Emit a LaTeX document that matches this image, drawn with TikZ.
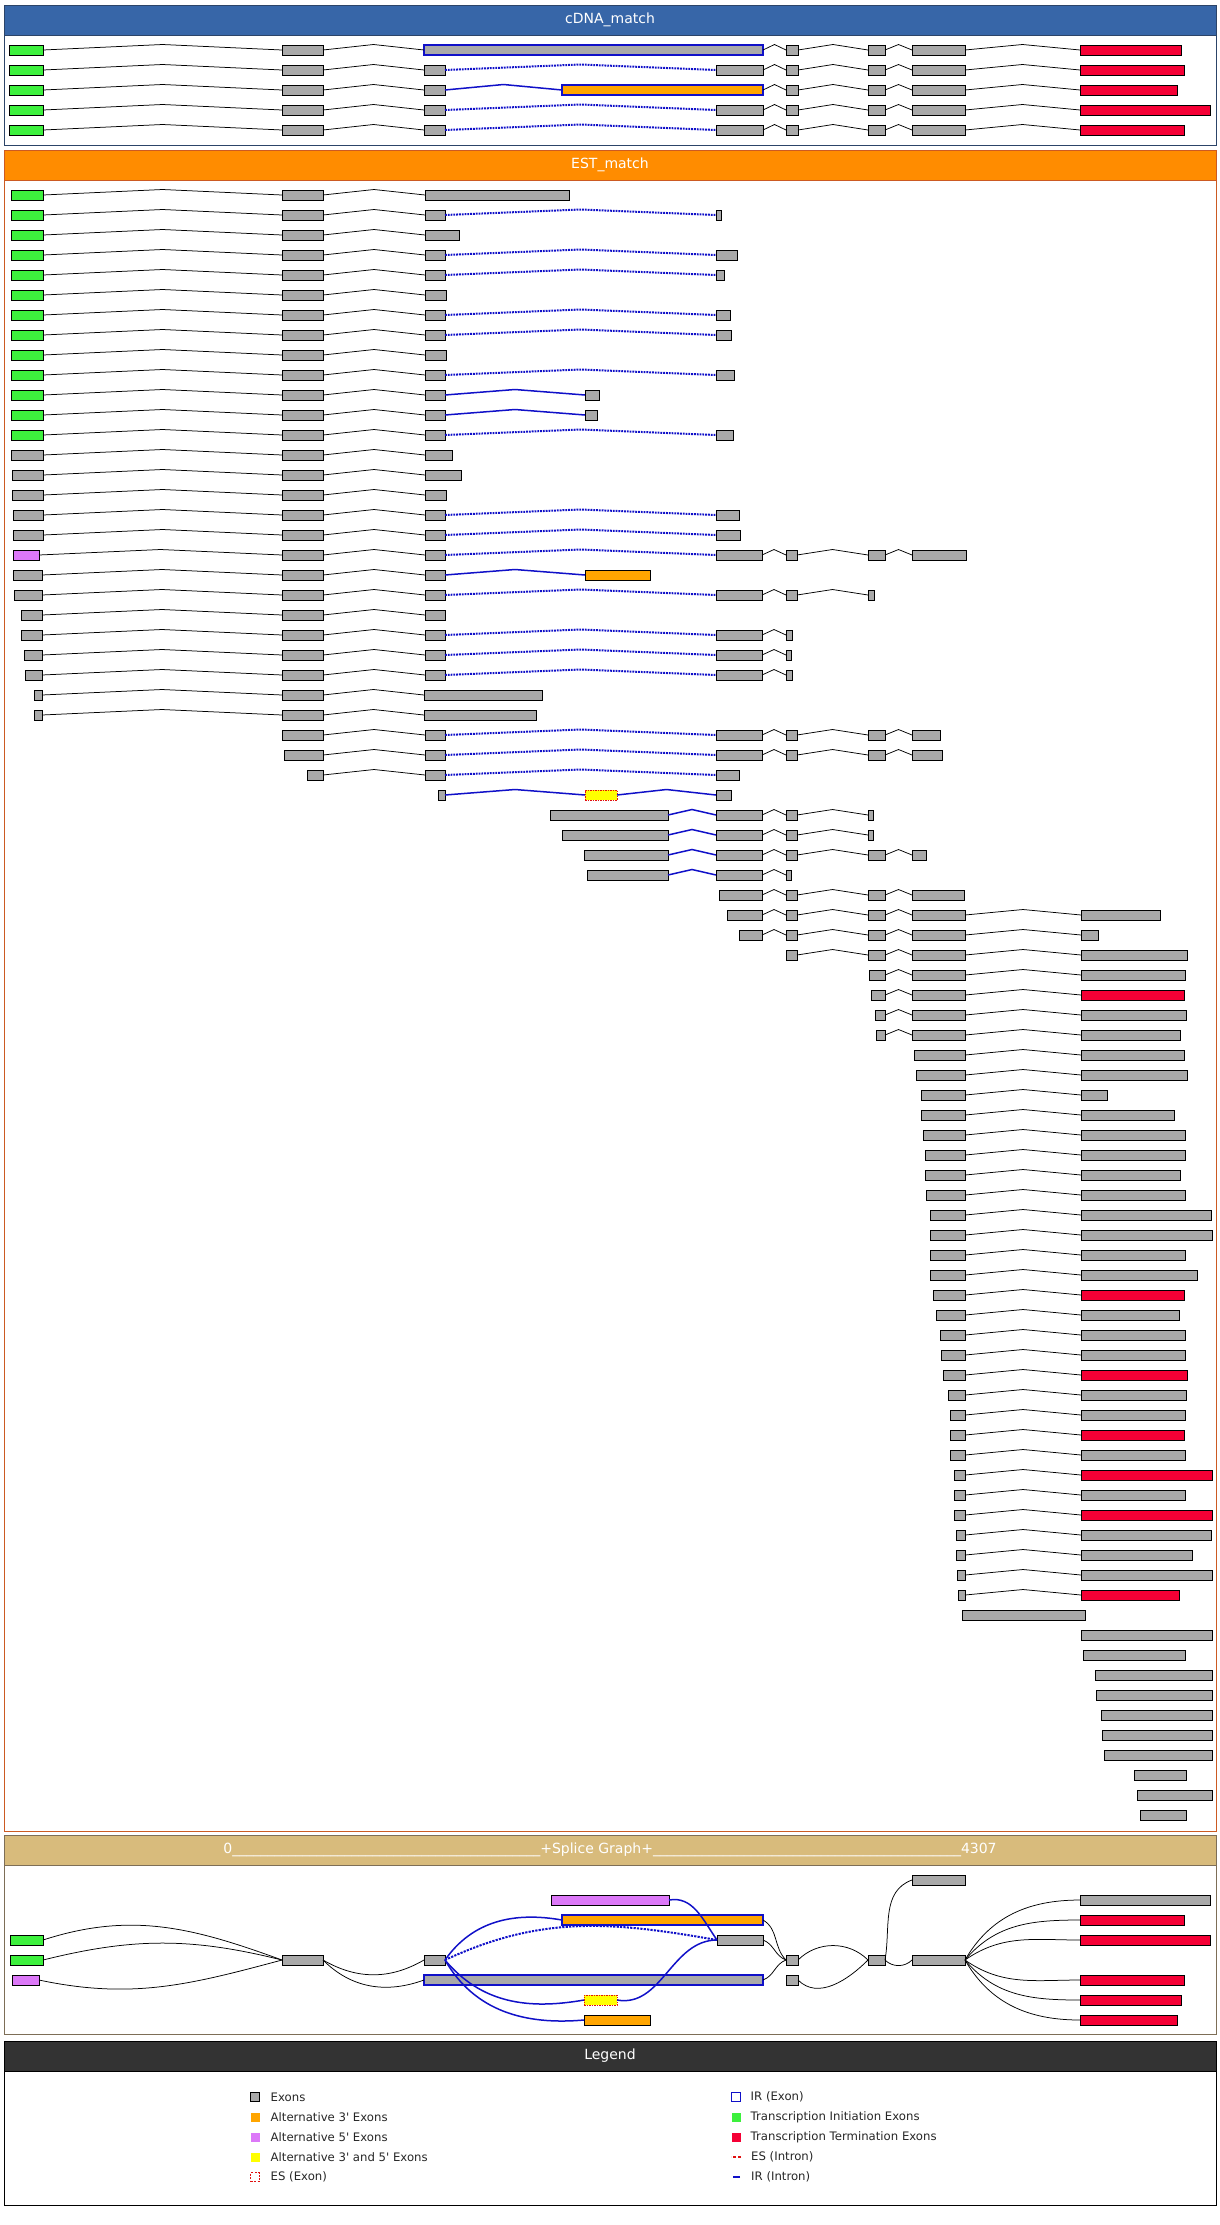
\documentclass[tikz,border=0pt]{standalone}
\usepackage{fontspec}
\setmainfont{DejaVu Sans}
\usetikzlibrary{positioning, calc}
\usepackage{xcolor}
\definecolor{exongray}{HTML}{A9A9A9}
\definecolor{initcol}{HTML}{3DF03D}
\definecolor{termcol}{HTML}{F50035}
\definecolor{alt3col}{HTML}{FFA500}
\definecolor{alt5col}{HTML}{DC78F8}
\definecolor{alt35col}{HTML}{FFFF00}
\definecolor{escol}{HTML}{E01010}
\definecolor{ircol}{HTML}{1010C8}
\definecolor{cdnacol}{HTML}{3766A8}
\definecolor{cdnaline}{HTML}{2C4468}
\definecolor{estcol}{HTML}{FF8C00}
\definecolor{estline}{HTML}{CC5A22}
\definecolor{splicecol}{HTML}{D8BB7C}
\definecolor{spliceline}{HTML}{7D6E57}
\definecolor{legendcol}{HTML}{333333}

% one exon box from x1 to x2 on line y
\newcommand\exonbox[5]{% name, x1, x2, y, style
  \pgfmathsetmacro\exw{#3-#2}%
  \node[#5, minimum width=\exw pt] (#1) at (#2,#4) {};}
% a row of exons joined by introns
\newcommand\exontrack[3]{% prefix, y, list x1/x2/exon style/intron style
  \foreach \xa/\xb/\kind/\link [count=\ex] in #3 {
    \exonbox{#1-\ex}{\xa}{\xb}{#2}{\kind}
    \ifnum\ex>1
      \pgfmathtruncatemacro\prev{\ex-1}
      \draw[\link] (#1-\prev.east) to (#1-\ex.west);
    \fi
  }}
\newcommand\scalebar{\foreach \u in {1,...,44}{\_}}

\begin{document}
\begin{tikzpicture}[x=1pt, y=1pt,
  exonbase/.style={rectangle, draw=black, line width=0.8pt, minimum height=10pt, inner sep=0pt, outer sep=0pt, anchor=west},
  exon/.style={exonbase, fill=exongray},
  initexon/.style={exonbase, fill=initcol},
  termexon/.style={exonbase, fill=termcol},
  alt3exon/.style={exonbase, fill=alt3col},
  alt5exon/.style={exonbase, fill=alt5col},
  esexon/.style={exonbase, fill=alt35col, draw=escol, line width=1pt, dash pattern=on 1.5pt off 1pt},
  irexon/.style={exonbase, fill=exongray, draw=ircol, line width=1.6pt},
  alt3irexon/.style={irexon, fill=alt3col},
  hatpath/.style={to path={-- ($(\tikztostart)!0.5!(\tikztotarget)+(0pt,5.5pt)$) -- (\tikztotarget)}},
  intron/.style={hatpath, draw=black, line width=0.75pt},
  esintron/.style={hatpath, draw=ircol, line width=2pt, dash pattern=on 1.8pt off 1pt},
  irintron/.style={hatpath, draw=ircol, line width=1.5pt},
  sgline/.style={draw=black, line width=0.75pt},
  sgir/.style={draw=ircol, line width=1.5pt},
  sges/.style={sgir, line width=2pt, dash pattern=on 2.2pt off 1.2pt},
  headbar/.style={rectangle, minimum width=1212pt, minimum height=30pt, inner sep=0pt, outer sep=0pt, text=white, font=\fontsize{14}{16}\selectfont},
  panel/.style={rectangle, minimum width=1212pt, inner sep=0pt, outer sep=0pt, line width=1pt},
  legsym/.style={rectangle, minimum width=9pt, minimum height=9pt, inner sep=0pt, outer sep=0pt},
  legtext/.style={anchor=west, inner sep=0pt, font=\fontsize{11.7}{13}\selectfont, text=black!85}
]
\useasboundingbox (0,0) rectangle (1220,-2225);

% Panels
\node[headbar, fill=cdnacol, draw=cdnaline] (cdnahead) at (610,-20) {cDNA\_match};
\node[panel, draw=cdnaline, minimum height=110pt, below=0pt of cdnahead] (cdnabody) {};
\node[headbar, fill=estcol, draw=estline] (esthead) at (610,-165) {EST\_match};
\node[panel, draw=estline, minimum height=1651pt, below=0pt of esthead] (estbody) {};
\node[headbar, fill=splicecol, draw=spliceline] (splicehead) at (610,-1850) {0\scalebar+Splice Graph+\scalebar 4307};
\node[panel, draw=spliceline, minimum height=169pt, below=0pt of splicehead] (splicebody) {};
\node[headbar, fill=legendcol, draw=black] (legendhead) at (610,-2056) {Legend};
\node[panel, draw=black, minimum height=134pt, below=0pt of legendhead] (legendbody) {};

% cDNA_match
\foreach \spec [count=\trk] in {
  {9/43/initexon/x, 282/323/exon/intron, 424/763/irexon/intron, 786/798/exon/intron, 868/885/exon/intron, 912/965/exon/intron, 1080/1181/termexon/intron},
  {9/43/initexon/x, 282/323/exon/intron, 424/445/exon/intron, 716/763/exon/esintron, 786/798/exon/intron, 868/885/exon/intron, 912/965/exon/intron, 1080/1184/termexon/intron},
  {9/43/initexon/x, 282/323/exon/intron, 424/445/exon/intron, 562/763/alt3irexon/irintron, 786/798/exon/intron, 868/885/exon/intron, 912/965/exon/intron, 1080/1177/termexon/intron},
  {9/43/initexon/x, 282/323/exon/intron, 424/445/exon/intron, 716/763/exon/esintron, 786/798/exon/intron, 868/885/exon/intron, 912/965/exon/intron, 1080/1210/termexon/intron},
  {9/43/initexon/x, 282/323/exon/intron, 424/445/exon/intron, 716/763/exon/esintron, 786/798/exon/intron, 868/885/exon/intron, 912/965/exon/intron, 1080/1184/termexon/intron}}{
  \pgfmathsetmacro\ry{-50-20*(\trk-1)}
  \exontrack{cdna-\trk}{\ry}{\spec}
}

% EST_match
\foreach \spec [count=\trk] in {
  {11/43/initexon/x, 282/323/exon/intron, 425/569/exon/intron},
  {11/43/initexon/x, 282/323/exon/intron, 425/445/exon/intron, 716/721/exon/esintron},
  {11/43/initexon/x, 282/323/exon/intron, 425/459/exon/intron},
  {11/43/initexon/x, 282/323/exon/intron, 425/445/exon/intron, 716/737/exon/esintron},
  {11/43/initexon/x, 282/323/exon/intron, 425/445/exon/intron, 716/724/exon/esintron},
  {11/43/initexon/x, 282/323/exon/intron, 425/446/exon/intron},
  {11/43/initexon/x, 282/323/exon/intron, 425/445/exon/intron, 716/730/exon/esintron},
  {11/43/initexon/x, 282/323/exon/intron, 425/445/exon/intron, 716/731/exon/esintron},
  {11/43/initexon/x, 282/323/exon/intron, 425/446/exon/intron},
  {11/43/initexon/x, 282/323/exon/intron, 425/445/exon/intron, 716/734/exon/esintron},
  {11/43/initexon/x, 282/323/exon/intron, 425/445/exon/intron, 585/599/exon/irintron},
  {11/43/initexon/x, 282/323/exon/intron, 425/445/exon/intron, 585/597/exon/irintron},
  {11/43/initexon/x, 282/323/exon/intron, 425/445/exon/intron, 716/733/exon/esintron},
  {11/43/exon/x, 282/323/exon/intron, 425/452/exon/intron},
  {12/43/exon/x, 282/323/exon/intron, 425/461/exon/intron},
  {12/43/exon/x, 282/323/exon/intron, 425/446/exon/intron},
  {13/43/exon/x, 282/323/exon/intron, 425/445/exon/intron, 716/739/exon/esintron},
  {13/43/exon/x, 282/323/exon/intron, 425/445/exon/intron, 716/740/exon/esintron},
  {13/39/alt5exon/x, 282/323/exon/intron, 425/445/exon/intron, 716/762/exon/esintron, 786/797/exon/intron, 868/885/exon/intron, 912/966/exon/intron},
  {13/42/exon/x, 282/323/exon/intron, 425/445/exon/intron, 585/650/alt3exon/irintron},
  {14/42/exon/x, 282/323/exon/intron, 425/445/exon/intron, 716/762/exon/esintron, 786/797/exon/intron, 868/874/exon/intron},
  {21/42/exon/x, 282/323/exon/intron, 425/445/exon/intron},
  {21/42/exon/x, 282/323/exon/intron, 425/445/exon/intron, 716/762/exon/esintron, 786/792/exon/intron},
  {24/42/exon/x, 282/323/exon/intron, 425/445/exon/intron, 716/762/exon/esintron, 786/791/exon/intron},
  {25/42/exon/x, 282/323/exon/intron, 425/445/exon/intron, 716/762/exon/esintron, 786/792/exon/intron},
  {34/42/exon/x, 282/323/exon/intron, 424/542/exon/intron},
  {34/42/exon/x, 282/323/exon/intron, 424/536/exon/intron},
  {282/323/exon/x, 425/445/exon/intron, 716/762/exon/esintron, 786/797/exon/intron, 868/885/exon/intron, 912/940/exon/intron},
  {284/323/exon/x, 425/445/exon/intron, 716/762/exon/esintron, 786/797/exon/intron, 868/885/exon/intron, 912/942/exon/intron},
  {307/323/exon/x, 425/445/exon/intron, 716/739/exon/esintron},
  {438/445/exon/x, 585/617/esexon/irintron, 716/731/exon/irintron},
  {550/668/exon/x, 716/762/exon/irintron, 786/797/exon/intron, 868/873/exon/intron},
  {562/668/exon/x, 716/762/exon/irintron, 786/797/exon/intron, 868/873/exon/intron},
  {584/668/exon/x, 716/762/exon/irintron, 786/797/exon/intron, 868/885/exon/intron, 912/926/exon/intron},
  {587/668/exon/x, 716/762/exon/irintron, 786/791/exon/intron},
  {719/762/exon/x, 786/797/exon/intron, 868/885/exon/intron, 912/964/exon/intron},
  {727/762/exon/x, 786/797/exon/intron, 868/885/exon/intron, 912/965/exon/intron, 1081/1160/exon/intron},
  {739/762/exon/x, 786/797/exon/intron, 868/885/exon/intron, 912/965/exon/intron, 1081/1098/exon/intron},
  {786/797/exon/x, 868/885/exon/intron, 912/965/exon/intron, 1081/1187/exon/intron},
  {869/885/exon/x, 912/965/exon/intron, 1081/1185/exon/intron},
  {871/885/exon/x, 912/965/exon/intron, 1081/1184/termexon/intron},
  {875/885/exon/x, 912/965/exon/intron, 1081/1186/exon/intron},
  {876/885/exon/x, 912/965/exon/intron, 1081/1180/exon/intron},
  {914/965/exon/x, 1081/1184/exon/intron},
  {916/965/exon/x, 1081/1187/exon/intron},
  {921/965/exon/x, 1081/1107/exon/intron},
  {921/965/exon/x, 1081/1174/exon/intron},
  {923/965/exon/x, 1081/1185/exon/intron},
  {925/965/exon/x, 1081/1185/exon/intron},
  {925/965/exon/x, 1081/1180/exon/intron},
  {926/965/exon/x, 1081/1185/exon/intron},
  {930/965/exon/x, 1081/1211/exon/intron},
  {930/965/exon/x, 1081/1212/exon/intron},
  {930/965/exon/x, 1081/1185/exon/intron},
  {930/965/exon/x, 1081/1197/exon/intron},
  {933/965/exon/x, 1081/1184/termexon/intron},
  {936/965/exon/x, 1081/1179/exon/intron},
  {940/965/exon/x, 1081/1185/exon/intron},
  {941/965/exon/x, 1081/1185/exon/intron},
  {943/965/exon/x, 1081/1187/termexon/intron},
  {948/965/exon/x, 1081/1186/exon/intron},
  {950/965/exon/x, 1081/1185/exon/intron},
  {950/965/exon/x, 1081/1184/termexon/intron},
  {950/965/exon/x, 1081/1185/exon/intron},
  {954/965/exon/x, 1081/1212/termexon/intron},
  {954/965/exon/x, 1081/1185/exon/intron},
  {954/965/exon/x, 1081/1212/termexon/intron},
  {956/965/exon/x, 1081/1211/exon/intron},
  {956/965/exon/x, 1081/1192/exon/intron},
  {957/965/exon/x, 1081/1212/exon/intron},
  {958/965/exon/x, 1081/1179/termexon/intron},
  {962/1085/exon/x},
  {1081/1212/exon/x},
  {1083/1185/exon/x},
  {1095/1212/exon/x},
  {1096/1212/exon/x},
  {1101/1212/exon/x},
  {1102/1212/exon/x},
  {1104/1212/exon/x},
  {1134/1186/exon/x},
  {1137/1212/exon/x},
  {1140/1186/exon/x}}{
  \pgfmathsetmacro\ry{-195-20*(\trk-1)}
  \exontrack{est-\trk}{\ry}{\spec}
}

% Splice Graph
\exonbox{sgA1}{10}{43}{-1940}{initexon}
\exonbox{sgA2}{10}{43}{-1960}{initexon}
\exonbox{sgA3}{12}{39}{-1980}{alt5exon}
\exonbox{sgB}{282}{323}{-1960}{exon}
\exonbox{sgC}{424}{445}{-1960}{exon}
\exonbox{sgD5}{551}{669}{-1900}{alt5exon}
\exonbox{sgD3}{562}{763}{-1920}{alt3irexon}
\exonbox{sgE}{717}{763}{-1940}{exon}
\exonbox{sgCIR}{424}{763}{-1980}{irexon}
\exonbox{sgES}{584}{617}{-2000}{esexon}
\exonbox{sgD3b}{584}{650}{-2020}{alt3exon}
\exonbox{sgF1}{786}{798}{-1960}{exon}
\exonbox{sgF2}{786}{798}{-1980}{exon}
\exonbox{sgG}{868}{885}{-1960}{exon}
\exonbox{sgHtop}{912}{965}{-1880}{exon}
\exonbox{sgH}{912}{965}{-1960}{exon}
\exonbox{sgI1}{1080}{1210}{-1900}{exon}
\exonbox{sgI2}{1080}{1184}{-1920}{termexon}
\exonbox{sgI3}{1080}{1210}{-1940}{termexon}
\exonbox{sgI4}{1080}{1184}{-1980}{termexon}
\exonbox{sgI5}{1080}{1181}{-2000}{termexon}
\exonbox{sgI6}{1080}{1177}{-2020}{termexon}

\draw[sgline] (sgA1.east) to[out=18, in=160] (sgB.west);
\draw[sgline] (sgA2.east) to[out=14, in=166] (sgB.west);
\draw[sgline] (sgA3.east) to[out=-12, in=195] (sgB.west);
\draw[sgline] (sgB.east) to[out=-30, in=210] (sgC.west);
\draw[sgline] (sgB.east) to[out=-45, in=200] (sgCIR.west);
\draw[sgir] (sgC.east) to[out=55, in=170] (sgD3.west);
\draw[sges] (sgC.east) to[out=25, in=170] (sgE.west);
\draw[sgir] (sgC.east) to[out=-50, in=190] (sgES.west);
\draw[sgir] (sgC.east) to[out=-60, in=185] (sgD3b.west);
\draw[sgir] (sgES.east) to[out=-10, in=180] (sgE.west);
\draw[sgir] (sgD5.east) to[out=10, in=125] (sgE.west);
\draw[sgline] (sgD3.east) to[out=-30, in=135] (sgF1.west);
\draw[sgline] (sgE.east) to[out=-20, in=160] (sgF1.west);
\draw[sgline] (sgCIR.east) to[out=20, in=200] (sgF1.west);
\draw[sgline] (sgF1.east) to[out=45, in=135] (sgG.west);
\draw[sgline] (sgF2.east) to[out=-45, in=225] (sgG.west);
\draw[sgline] (sgG.east) to[out=-45, in=225] (sgH.west);
\draw[sgline] (sgG.east) to[out=80, in=200] (sgHtop.west);
\foreach \tip/\ang in {1/60, 2/50, 3/35, 4/-35, 5/-50, 6/-60}
  \draw[sgline] (sgH.east) to[out=\ang, in=180] (sgI\tip.west);

% Legend
\node[legsym, fill=exongray, draw=black, line width=0.8pt] (lgexon) at (255,-2097) {};
\node[legtext, right=11pt of lgexon] (lgexontxt) {Exons};
\node[legsym, fill=alt3col] (lgalt3) at (255,-2117) {};
\node[legtext, right=11pt of lgalt3] (lgalt3txt) {Alternative 3\textquotesingle{} Exons};
\node[legsym, fill=alt5col] (lgalt5) at (255,-2137) {};
\node[legtext, right=11pt of lgalt5] (lgalt5txt) {Alternative 5\textquotesingle{} Exons};
\node[legsym, fill=alt35col] (lgalt35) at (255,-2157) {};
\node[legtext, right=11pt of lgalt35] (lgalt35txt) {Alternative 3\textquotesingle{} and 5\textquotesingle{} Exons};
\node[legsym, fill=white, draw=escol, line width=1.6pt, dash pattern=on 2pt off 1.5pt] (lgesex) at (255,-2177) {};
\node[legtext, right=11pt of lgesex] (lgesextxt) {ES (Exon)};

\node[legsym, fill=white, draw=ircol, line width=1.8pt] (lgirex) at (736,-2097) {};
\node[legtext, right=10pt of lgirex] (lgirextxt) {IR (Exon)};
\node[legsym, fill=initcol] (lginit) at (736,-2117) {};
\node[legtext, right=10pt of lginit] (lginittxt) {Transcription Initiation Exons};
\node[legsym, fill=termcol] (lgterm) at (736,-2137) {};
\node[legtext, right=10pt of lgterm] (lgtermtxt) {Transcription Termination Exons};
\coordinate (lgesin) at (741,-2157);
\draw[escol, line width=1.6pt, dash pattern=on 3pt off 2pt] (lgesin) -- ++(-10,0);
\node[legtext, right=10pt of lgesin] (lgesintxt) {ES (Intron)};
\coordinate (lgirin) at (740,-2177);
\draw[ircol, line width=1.6pt] (lgirin) -- ++(-7,0);
\node[legtext, right=11pt of lgirin] (lgirintxt) {IR (Intron)};
\end{tikzpicture}
\end{document}
